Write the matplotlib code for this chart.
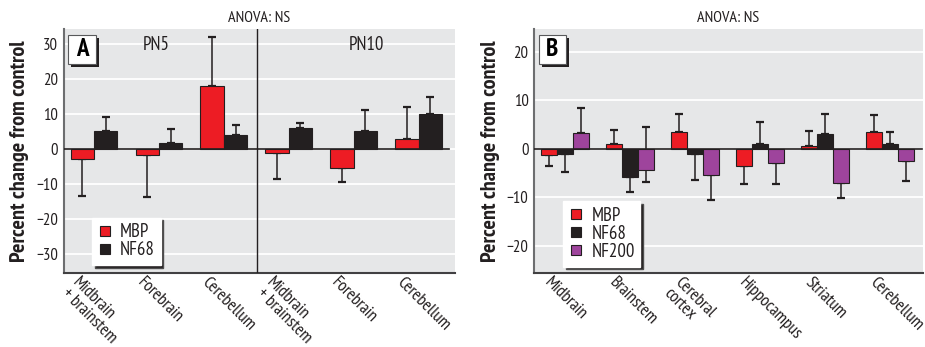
import matplotlib
matplotlib.use("Agg")
import matplotlib.pyplot as plt
from matplotlib import font_manager
from matplotlib.patches import Rectangle
from matplotlib.lines import Line2D
from matplotlib.transforms import ScaledTranslation, offset_copy
import numpy as np

# ---------------- data ----------------
categories_A = ["Midbrain\n+ brainstem", "Forebrain", "Cerebellum",
                "Midbrain\n+ brainstem", "Forebrain", "Cerebellum"]
mbp_A = [-2.8, -1.5, 18.1, -1.1, -5.2, 3.0]
mbp_A_err_down = [10.6, 12.1, 0, 7.4, 4.0, 0]
mbp_A_err_up = [0, 0, 14.1, 0, 0, 9.2]
nf68_A = [5.2, 1.9, 4.1, 6.0, 5.3, 10.1]
nf68_A_err_down = [0, 0, 0, 0, 0, 0]
nf68_A_err_up = [4.2, 3.9, 3.0, 1.5, 6.0, 4.9]
ticks_A = [-30, -20, -10, 0, 10, 20, 30]

categories_B = ["Midbrain", "Brainstem", "Cerebral\ncortex", "Hippocampus",
                "Striatum", "Cerebellum"]
mbp_B = [-1.2, 1.0, 3.4, -3.5, 0.6, 3.4]
mbp_B_err_down = [2.3, 0, 0, 3.8, 0, 0]
mbp_B_err_up = [0, 2.9, 3.7, 0, 3.0, 3.6]
nf68_B = [-1.0, -5.8, -1.1, 1.0, 3.0, 0.9]
nf68_B_err_down = [3.8, 3.1, 5.4, 0, 0, 0]
nf68_B_err_up = [0, 0, 0, 4.5, 4.2, 2.6]
nf200_B = [3.2, -4.3, -5.4, -3.0, -7.1, -2.5]
nf200_B_err_down = [0, 2.6, 5.1, 4.3, 3.1, 4.1]
nf200_B_err_up = [5.3, 8.8, 0, 0, 0, 0]
ticks_B = [-20, -10, 0, 10, 20]

# ---------------- fonts ----------------
avail = {f.name for f in font_manager.fontManager.ttflist}
main_font = None
for cand in ["PT Sans Narrow", "Roboto Condensed", "Archivo Narrow", "Pragati Narrow",
             "Asap Condensed"]:
    if cand in avail:
        main_font = cand
        break
if main_font is None:
    main_font = "DejaVu Sans"
    plt.rcParams['font.stretch'] = 'condensed'
plt.rcParams['font.family'] = [main_font, 'DejaVu Sans']

RED = "#ed1c24"
BLACK = "#231f20"
PURPLE = "#9e449c"
BG = "#e6e7e8"
TXT = "#231f20"

fig = plt.figure(figsize=(9.25, 3.47), dpi=100)
W, H = 925, 347


def make_axes(x0, x1, y_top=29, y_bot=273):
    return fig.add_axes([x0 / W, 1 - y_bot / H, (x1 - x0) / W, (y_bot - y_top) / H])


def style_axes(ax, ticks, ylim, xlim, labels, xoff_px):
    ax.set_facecolor(BG)
    ax.set_ylim(*ylim)
    ax.set_xlim(*xlim)
    ax.set_yticks(ticks)
    ax.set_yticklabels([("\u2212%d" % -t) if t < 0 else str(t) for t in ticks],
                       fontsize=12, color=TXT)
    ax.grid(axis='y', color='white', linewidth=1.3, zorder=0)
    ax.set_axisbelow(True)
    ax.tick_params(axis='y', length=0, pad=4)
    ax.tick_params(axis='x', length=0, pad=0)
    for s in ['top', 'right']:
        ax.spines[s].set_visible(False)
    ax.spines['left'].set_color('#6d6e70')
    ax.spines['left'].set_linewidth(1.5)
    ax.spines['bottom'].set_color('#414042')
    ax.spines['bottom'].set_linewidth(1.5)
    ax.set_xticks(np.arange(len(labels)))
    ax.set_xticklabels(labels, rotation=-45, ha='left', va='top',
                       rotation_mode='anchor', fontsize=12.5, color=TXT,
                       multialignment='left', linespacing=0.9)
    for lbl in ax.get_xticklabels():
        lbl.set_transform(lbl.get_transform() +
                          ScaledTranslation(xoff_px / 100, -2 / 100, fig.dpi_scale_trans))
    ax.set_ylabel("Percent change from control", fontsize=16, fontweight='bold',
                  color=TXT, labelpad=5)
    ax.text(0.5, 1 + 11 / 244, "ANOVA: NS", transform=ax.transAxes,
            ha='center', va='center', fontsize=11.5, color=TXT)


def letter_box(ax, letter, x_frac, y_frac, w_frac, h_frac):
    shadow_tr = offset_copy(ax.transAxes, fig=fig, x=3, y=-3, units='dots')
    ax.add_patch(Rectangle((x_frac, y_frac), w_frac, h_frac, transform=shadow_tr,
                           facecolor=BLACK, edgecolor='none', zorder=6, clip_on=False))
    ax.add_patch(Rectangle((x_frac, y_frac), w_frac, h_frac, transform=ax.transAxes,
                           facecolor='white', edgecolor='#58595b', linewidth=0.8,
                           zorder=7, clip_on=False))
    ax.text(x_frac + w_frac / 2, y_frac + h_frac / 2, letter, transform=ax.transAxes,
            ha='center', va='center', fontsize=18, fontweight='bold', color='black',
            zorder=8)


def add_legend(ax, names, colors, anchor):
    handles = [Line2D([], [], marker='s', linestyle='none', markersize=6.5,
                      markerfacecolor=c, markeredgecolor=BLACK, markeredgewidth=0.8)
               for c in colors]
    leg = ax.legend(handles, names, loc='lower left', bbox_to_anchor=anchor,
                    borderaxespad=0, fontsize=13.5, handlelength=0.8,
                    handletextpad=0.4, labelspacing=0.0, borderpad=0.3,
                    frameon=True, fancybox=False, framealpha=1,
                    shadow={'facecolor': BLACK, 'alpha': 1})
    leg.get_frame().set_edgecolor('white')
    leg.get_frame().set_facecolor('white')
    for t in leg.get_texts():
        t.set_color(TXT)
    leg.set_zorder(9)
    return leg


# ---------------- Panel A ----------------
axA = make_axes(63.5, 455)
style_axes(axA, ticks_A, (-35.3, 34.4), (-0.47, 5.56), categories_A, -14)
xA = np.arange(len(categories_A))
wA = 0.36
axA.bar(xA - wA / 2, mbp_A, wA, color=RED, edgecolor=BLACK, linewidth=0.8, zorder=3)
axA.bar(xA + wA / 2, nf68_A, wA, color=BLACK, edgecolor=BLACK, linewidth=0.8, zorder=3)
ekw = dict(fmt='none', ecolor=BLACK, elinewidth=1.1, capsize=3.2, capthick=1.6, zorder=2)
axA.errorbar(xA - wA / 2, mbp_A, yerr=[mbp_A_err_down, mbp_A_err_up], **ekw)
axA.errorbar(xA + wA / 2, nf68_A, yerr=[nf68_A_err_down, nf68_A_err_up], **ekw)
axA.axhline(0, xmin=0, xmax=0.985, color=BLACK, linewidth=1.2, zorder=4)
axA.axvline(2.51, color=BLACK, linewidth=1.0, zorder=4)
axA.text(0.236, 0.934, "PN5", transform=axA.transAxes, ha='center', va='center',
         fontsize=13.5, color=TXT)
axA.text(0.773, 0.934, "PN10", transform=axA.transAxes, ha='center', va='center',
         fontsize=13.5, color=TXT)
letter_box(axA, "A", 0.0115, 0.857, 0.0707, 0.119)
add_legend(axA, ["MBP", "NF68"], [RED, BLACK], (0.073, 0.033))

# ---------------- Panel B ----------------
axB = make_axes(534, 923)
style_axes(axB, ticks_B, (-25.6, 24.7), (-0.48, 5.5), categories_B, -13)
xB = np.arange(len(categories_B))
wB = 0.246
axB.bar(xB - wB, mbp_B, wB, color=RED, edgecolor=BLACK, linewidth=0.8, zorder=3)
axB.bar(xB, nf68_B, wB, color=BLACK, edgecolor=BLACK, linewidth=0.8, zorder=3)
axB.bar(xB + wB, nf200_B, wB, color=PURPLE, edgecolor=BLACK, linewidth=0.8, zorder=3)
axB.errorbar(xB - wB, mbp_B, yerr=[mbp_B_err_down, mbp_B_err_up], **ekw)
axB.errorbar(xB, nf68_B, yerr=[nf68_B_err_down, nf68_B_err_up], **ekw)
axB.errorbar(xB + wB, nf200_B, yerr=[nf200_B_err_down, nf200_B_err_up], **ekw)
axB.axhline(0, xmin=0, xmax=0.997, color=BLACK, linewidth=1.2, zorder=4)
letter_box(axB, "B", 0.013, 0.857, 0.068, 0.119)
add_legend(axB, ["MBP", "NF68", "NF200"], [RED, BLACK, PURPLE], (0.075, 0.026))

fig.savefig("out.png", dpi=100)
